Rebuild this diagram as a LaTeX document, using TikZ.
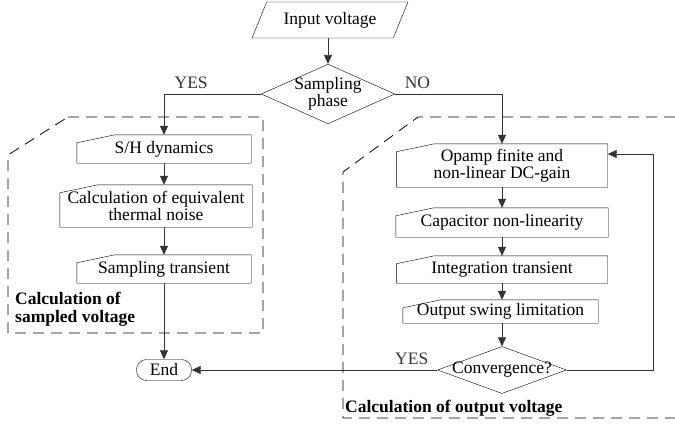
\documentclass[tikz,border=0pt]{standalone}
\usepackage{fontspec}
\setmainfont{Liberation Serif}
\usetikzlibrary{shapes.geometric, arrows.meta, positioning, calc}

\begin{document}
\begin{tikzpicture}[
    x=1pt, y=-1pt,
    font=\fontsize{17.5}{16.5}\selectfont,
    io/.style={trapezium, trapezium left angle=56, trapezium right angle=124, trapezium stretches=true, draw, thin, minimum width=156, minimum height=36, inner sep=0pt},
    card/.style={rectangle, inner sep=0pt, align=center},
    decision/.style={diamond, draw, thin, inner sep=0pt, align=center},
    terminal/.style={rectangle, rounded corners=10pt, draw, thin, minimum width=55, minimum height=21, inner sep=0pt},
    arrow/.style={-{Triangle[length=9pt, width=8pt]}, line width=0.6pt, black!80},
    region/.style={dash pattern=on 11pt off 7pt, line width=0.8pt, black},
    tag/.style={font=\fontsize{17.5}{18}\selectfont\bfseries, align=left, inner sep=0pt}
]
\useasboundingbox (0,0) rectangle (675,428);

% Nodes
\node[io] (input) at (330,20) {Input voltage};
\node[decision, aspect=2.24, inner xsep=-3pt, minimum width=130, minimum height=58] (samp) at (328,94) {Sampling\\phase};

\node[card, minimum width=174, minimum height=28] (sh) at (164,149) {S/H dynamics};
\node[card, minimum width=192, minimum height=42] (noise) at (156,206) {Calculation of equivalent\\thermal noise};
\node[card, minimum width=174, minimum height=28] (samptr) at (164,269) {Sampling transient};
\node[terminal] (end) at (164,370) {End};

\node[card, minimum width=211, minimum height=43] (opamp) at (502,165.5) {Opamp finite and\\non-linear DC-gain};
\node[card, minimum width=212, minimum height=29] (cap) at (502,222.5) {Capacitor non-linearity};
\node[card, minimum width=211, minimum height=27] (integ) at (502,269.5) {Integration transient};
\node[card, minimum width=195, minimum height=23] (swing) at (500.5,311.5) {Output swing limitation};
\node[decision, aspect=2.74, minimum width=129, minimum height=47, text height=8pt, text depth=2pt] (conv) at (502,370) {Convergence?};

\node[tag, anchor=north west] (sampledtag) at (15,292) {Calculation of\\sampled voltage};
\node[tag, anchor=west] (outputtag) at (345,408) {Calculation of output voltage};

% Card outlines with cut corner
\foreach \n in {sh, noise, samptr, opamp, cap, integ, swing}
    \draw[thin] (\n.south west) -- (\n.south east) -- (\n.north east) -- ([xshift=38]\n.north west) -- ([yshift=-8]\n.north west) -- cycle;

% Regions
\draw[region] (68,117) -- (263,117) -- (263,333) -- (8,333) -- (8,155) -- cycle;
\draw[region] (675,117) -- (418,117) -- (343,172) -- (343,418) -- (675,418);

% Arrows
\draw[arrow] (samp.north |- input.south) -- (samp.north);
\draw[arrow] (samp.west) -| node[pos=0.36, above=2pt] {YES} (sh.north);
\draw[arrow] (samp.east) -| node[pos=0.105, above=2pt] {NO} (opamp.north);

\draw[arrow] (sh.south) -- (sh.south |- noise.north);
\draw[arrow] (samptr.north |- noise.south) -- (samptr.north);
\draw[arrow] (samptr.south) -- (end.north);

\draw[arrow] (opamp.south) -- (cap.north);
\draw[arrow] (cap.south) -- (integ.north);
\draw[arrow] (integ.south) -- (integ.south |- swing.north);
\draw[arrow] (conv.north |- swing.south) -- (conv.north);

\coordinate (loop) at (653,154);
\draw[arrow] (conv.east) -| (loop) -- (opamp.east |- loop);
\draw[arrow] (conv.west) -- node[pos=0.104, above=2pt] {YES} (end.east);

\end{tikzpicture}
\end{document}
